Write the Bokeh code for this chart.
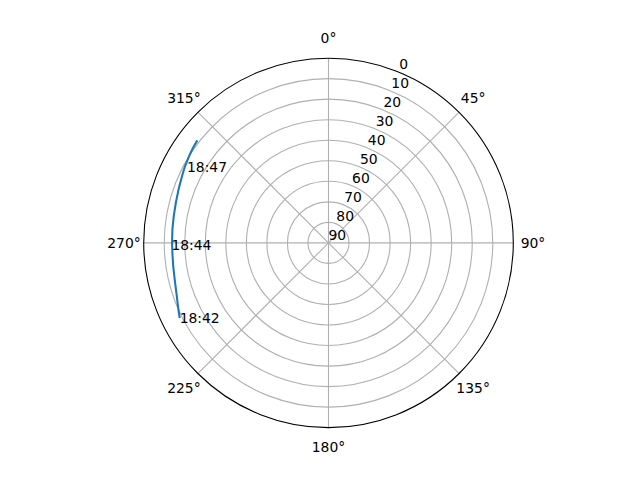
import numpy as np
from bokeh.plotting import figure
from bokeh.models import Range1d
from bokeh.embed import file_html
from bokeh.resources import INLINE
from bokeh.core.properties import value

# ---- data ----
theta_ticks = [0, 45, 90, 135, 180, 225, 270, 315]
theta_labels = ["0°", "45°", "90°", "135°", "180°", "225°", "270°", "315°"]
r_ticks = [0, 10, 20, 30, 40, 50, 60, 70, 80, 90]
r_labels = ["0", "10", "20", "30", "40", "50", "60", "70", "80", "90"]

azimuth = [243.2, 247, 251, 256, 261, 266, 270, 275, 280, 285, 290, 295, 298, 302, 305, 308]
elevation = [8.8, 10.4, 11.8, 12.9, 13.5, 13.8, 13.8, 13.7, 13.5, 13.1, 12.4, 11.5, 10.8, 10.0, 9.4, 8.9]

time_labels = ["18:42", "18:44", "18:47"]
time_az = [243.2, 269.3, 298.2]
time_el = [8.8, 13.5, 11.8]

# ---- geometry ----
R = 184.8          # pixel radius of the polar frame
RMAX = 90.0        # elevation at centre


def to_xy(az, el):
    az = np.radians(np.asarray(az, dtype=float))
    r = (RMAX - np.asarray(el, dtype=float)) / RMAX * R
    return r * np.sin(az), r * np.cos(az)


FONT = value("DejaVu Sans")
FS = "13.9px"
GRID = "#b0b0b0"
LW = 0.8 * 100 / 72

p = figure(width=624, height=464,
           x_range=Range1d(-328, 296), y_range=Range1d(-221.6, 242.4),
           output_backend="svg", toolbar_location=None,
           x_axis_location=None, y_axis_location=None,
           min_border=0, outline_line_color=None,
           background_fill_color="white", border_fill_color="white")
p.xgrid.visible = False
p.ygrid.visible = False

# rings
ring_r = [(RMAX - t) / RMAX * R for t in r_ticks if 0 < (RMAX - t) < RMAX]
p.circle(x=[0] * len(ring_r), y=[0] * len(ring_r), radius=ring_r,
         fill_color=None, line_color=GRID, line_width=LW)

# spokes
ex, ey = to_xy(theta_ticks, [0] * len(theta_ticks))
p.segment(x0=[0] * len(theta_ticks), y0=[0] * len(theta_ticks), x1=ex, y1=ey,
          line_color=GRID, line_width=LW)

# outer spine
p.circle(x=[0], y=[0], radius=[R], fill_color=None, line_color="black", line_width=LW)

# track
tx, ty = to_xy(azimuth, elevation)
p.line(tx, ty, line_color="#1f77b4", line_width=1.5 * 100 / 72)

# time labels
lx, ly = to_xy(time_az, time_el)
p.text(x=lx, y=ly, text=time_labels, text_font=FONT, text_font_size=FS,
       text_align="left", text_baseline="alphabetic", text_color="black")

# radial tick labels (at 22.5 deg)
rx, ry = to_xy([22.5] * len(r_ticks), r_ticks)
p.text(x=rx, y=ry, text=r_labels, text_font=FONT, text_font_size=FS,
       text_align="left", text_baseline="bottom", text_color="black", y_offset=-3)

# angular tick labels
ang = np.radians(theta_ticks)
LR = 204.5
p.text(x=LR * np.sin(ang), y=LR * np.cos(ang), text=theta_labels, text_font=FONT,
       text_font_size=FS, text_align="center", text_baseline="middle", text_color="black")

open("out.html", "w").write(file_html(p, INLINE))
